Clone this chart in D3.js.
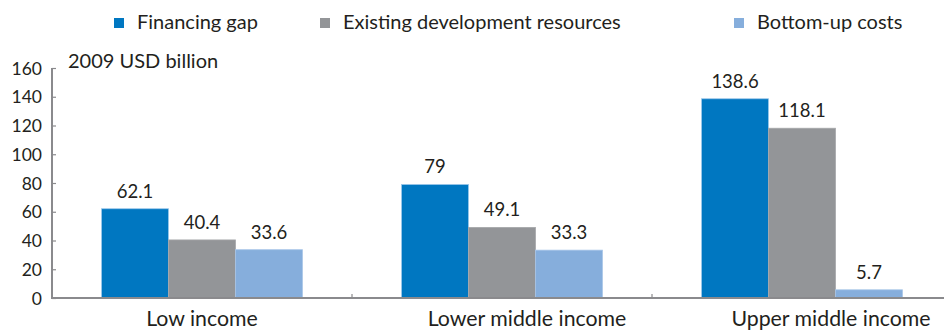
<!DOCTYPE html>
<html>
<head>
<meta charset="utf-8">
<script src="https://cdn.jsdelivr.net/npm/d3@7"></script>
<style>
  html, body { margin: 0; padding: 0; background: #fff; }
  svg { display: block; font-family: Lato, "Open Sans", sans-serif; }
</style>
</head>
<body>
<svg id="chart" width="944" height="331"></svg>
<script>
// Income groups along the x axis
const categories = ["Low income", "Lower middle income", "Upper middle income"];
// Series names and values (2009 USD billion)
const seriesNames = ["Financing gap", "Existing development resources", "Bottom-up costs"];
const financingGap = [62.1, 79, 138.6];
const existingResources = [40.4, 49.1, 118.1];
const bottomUpCosts = [33.6, 33.3, 5.7];
const yTicks = [0, 20, 40, 60, 80, 100, 120, 140, 160];
const unitLabel = "2009 USD billion";

const seriesValues = [financingGap, existingResources, bottomUpCosts];
const colors = ["#0077c1", "#939598", "#86aedc"];
const strokes = ["#9cc8ea", "#a5a7aa", "#a9c6e8"];
// horizontal nudge of each category label from its group centre
const labelShift = [0, 25, 29];

const svg = d3.select("#chart");
const textColor = "#231f20";
const axisColor = "#8a8a8d";

const x0 = d3.scaleBand().domain(categories).range([52, 952]).paddingInner(0).paddingOuter(0);
const x1 = d3.scaleBand().domain(d3.range(seriesNames.length))
  .range([0, x0.bandwidth()]).paddingInner(0).paddingOuter(0.74);
const y = d3.scaleLinear().domain([0, 160]).range([298, 68]);

// Bars
const groups = svg.append("g").selectAll("g")
  .data(categories).join("g")
  .attr("transform", d => `translate(${x0(d)},0)`);

groups.selectAll("rect")
  .data((c, ci) => seriesValues.map((vals, si) => ({ si, v: vals[ci] })))
  .join("rect")
  .attr("x", d => x1(d.si))
  .attr("width", x1.bandwidth())
  .attr("y", d => y(d.v))
  .attr("height", d => y(0) - y(d.v))
  .attr("fill", d => colors[d.si])
  .attr("stroke", d => strokes[d.si])
  .attr("stroke-width", 0.8);

// Value labels
groups.selectAll("text.val")
  .data((c, ci) => seriesValues.map((vals, si) => ({ si, v: vals[ci] })))
  .join("text")
  .attr("class", "val")
  .attr("x", d => x1(d.si) + x1.bandwidth() / 2)
  .attr("y", d => y(d.v) - 11)
  .attr("text-anchor", "middle")
  .attr("font-size", 18.5)
  .attr("fill", textColor)
  .text(d => d3.format("~g")(d.v));

// Y axis
const yAxis = d3.axisRight(y).tickValues(yTicks).tickSize(4).tickFormat(d3.format("d"));
const gy = svg.append("g").attr("transform", "translate(52,0)").call(yAxis);
gy.select(".domain").attr("stroke", axisColor).attr("stroke-width", 2).attr("d", "M0,68V299");
gy.selectAll(".tick line").attr("stroke", axisColor).attr("stroke-width", 1.2);
gy.selectAll(".tick text")
  .attr("x", -10).attr("text-anchor", "end").attr("dy", "0.35em")
  .attr("font-size", 17.5).attr("font-family", "Lato, sans-serif").attr("fill", textColor);

// X axis
const xAxis = d3.axisTop(x0).tickSize(0).tickFormat("");
const gx = svg.append("g").attr("transform", "translate(0,298)").call(xAxis);
gx.select(".domain").attr("stroke", axisColor).attr("stroke-width", 2).attr("d", "M51,0H952");
// Separator ticks between groups
gx.selectAll("line.sep")
  .data(categories.slice(1)).join("line")
  .attr("class", "sep")
  .attr("x1", d => x0(d)).attr("x2", d => x0(d))
  .attr("y1", 0).attr("y2", -4)
  .attr("stroke", axisColor).attr("stroke-width", 1.2);

// Category labels
svg.append("g").selectAll("text")
  .data(categories).join("text")
  .attr("x", (d, i) => x0(d) + x0.bandwidth() / 2 + labelShift[i])
  .attr("y", 326)
  .attr("text-anchor", "middle")
  .attr("font-size", 21.3)
  .attr("fill", textColor)
  .text(d => d);

// Unit label
svg.append("text")
  .attr("x", 68).attr("y", 68)
  .attr("font-size", 20)
  .attr("fill", textColor)
  .text(unitLabel);

// Legend
const legendX = [114, 320, 734];
const legend = svg.append("g").selectAll("g")
  .data(seriesNames).join("g")
  .attr("transform", (d, i) => `translate(${legendX[i]},0)`);
legend.append("rect")
  .attr("x", 0).attr("y", 18).attr("width", 10).attr("height", 10)
  .attr("fill", (d, i) => colors[i]);
legend.append("text")
  .attr("x", 23).attr("y", 29)
  .attr("font-size", 20)
  .attr("fill", textColor)
  .text(d => d);
</script>
</body>
</html>
